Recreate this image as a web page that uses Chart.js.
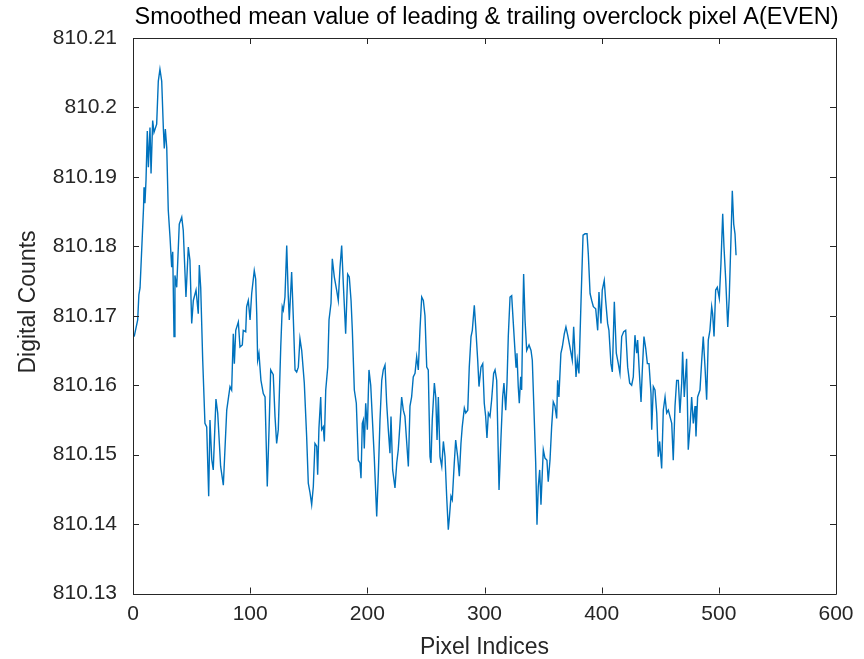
<!DOCTYPE html>
<html>
<head>
<meta charset="utf-8">
<script src="https://cdn.jsdelivr.net/npm/chart.js@4.4.1/dist/chart.umd.min.js"></script>
<style>
html,body{margin:0;padding:0;background:#fff;}
#wrap{width:864px;height:659px;}
</style>
</head>
<body>
<div id="wrap"><canvas id="c" width="864" height="659"></canvas></div>
<script>
const titleText = "Smoothed mean value of leading & trailing overclock pixel A(EVEN)";
const xLabel = "Pixel Indices";
const yLabel = "Digital Counts";
const xTicks = [0, 100, 200, 300, 400, 500, 600];
const yTicks = [810.13, 810.14, 810.15, 810.16, 810.17, 810.18, 810.19, 810.20, 810.21];

const pixelIdx = [
1,4,5,6,9,9.4,10.2,11.1,12.2,13.1,14.5,15.4,16.8,17.9,20.2,21.6,23.0,24.5,25.9,26.7,27.6,28.8,30.1,31.6,33.0,33.9,35.0,35.8,37.3,39.5,41.6,42.9,45.2,47.2,48.6,50.1,51.5,53.8,55.7,56.6,57.8,59.5,61.4,62.9,64.6,65.7,67.2,68.5,70.8,72.3,74.8,77.1,
80.0,81.3,82.8,84.2,85.6,86.5,87.7,89.9,91.3,93.3,94.1,96.2,97.0,98.4,99.9,101.3,103.5,104.7,105.6,106.4,107.5,109.2,111.2,112.7,114.1,114.6,116.1,117.5,119.7,121.2,122.6,124.0,126.1,127.4,128.3,129.7,131.2,132.5,133.4,135.4,136.8,138.3,139.7,141.1,142.5,144.0,146.2,148.2,149.6,151.1,152.5,153.9,155.3,156.8,157.6,158.7,160.2,161.0,162.4,163.3,
164.5,166.2,167.3,169.0,170.1,171.8,173.8,175.2,176.7,178.1,179.5,181.5,183.2,184.6,186.1,187.2,188.9,190.6,192.3,193.7,194.6,195.7,196.6,197.4,198.6,200.0,201.4,202.9,204.2,205.9,208.0,209.4,210.8,212.3,213.6,215.1,216.5,217.9,219.3,220.2,221.6,223.6,225.1,226.4,227.9,229.3,230.7,232.1,235.0,236.4,237.8,239.2,240.7,242.1,243.5,244.9,246.4,247.8,249.2,
250.7,252.0,253.5,254.3,255.4,257.2,258.4,259.5,260.6,262.0,263.5,264.9,266.3,267.7,269.1,270.0,271.4,272.5,274.2,275.4,277.1,278.5,279.9,281.0,282.8,284.0,285.7,287.0,288.5,289.6,291.3,292.5,294.2,295.3,297.0,298.5,299.8,301.0,302.1,303.3,304.7,306.1,307.8,309.0,310.4,312.4,314.1,315.5,316.6,318.1,319.2,320.3,321.8,323.2,324.6,326.0,326.9,327.7,328.8,329.7,330.9,331.7,332.6,333.4,
334.6,336.0,338.0,339.7,340.8,342.5,343.7,344.8,345.9,347.1,348.2,349.3,350.2,351.6,353.3,354.4,355.9,357.3,358.7,360.1,361.6,362.4,363.5,365.2,366.4,368.1,369.5,371.0,372.9,374.9,376.1,377.2,378.1,379.2,380.6,382.4,384.1,385.8,387.5,388.6,390.1,391.5,392.9,394.9,396.6,397.7,399.4,400.5,402.2,403.4,405.1,406.2,407.9,409.1,410.8,412.5,414.2,415.6,417.1,418.8,420.5,422.2,423.9,
425.6,427.0,428.4,429.9,430.7,431.9,433.6,434.7,436.1,437.6,439.0,440.4,442.1,442.7,444.1,445.5,447.0,448.3,449.5,451.2,452.6,454.1,455.5,456.9,459.8,461.1,462.6,464.0,465.4,466.8,468.3,469.1,470.5,472.5,473.9,475.4,476.8,478.2,479.7,480.5,481.9,483.9,485.4,486.7,488.2,489.6,491.0,492.4,493.9,494.7,495.9,497.3,498.7,500.4,501.8,503.3,504.4,505.9,507.6,508.9,510.4,511.5,512.7,513.8,514.7
];

const meanCounts = [
810.1670,810.1694,810.1730,810.1740,810.1856,810.1885,810.1862,810.1895,810.1966,810.1914,810.1971,810.1905,810.1981,810.1964,810.1976,810.2038,810.2055,810.2038,810.1970,810.1941,810.1969,810.1942,810.1852,810.1813,810.1770,810.1792,810.1670,810.1758,810.1741,810.1832,810.1842,810.1823,810.1727,810.1799,810.1780,810.1689,810.1722,810.1737,810.1703,810.1773,810.1740,810.1636,810.1545,810.1540,810.1440,810.1550,810.1493,810.1478,810.1580,810.1560,810.1483,810.1456,
810.1564,810.1580,810.1598,810.1593,810.1674,810.1631,810.1679,810.1691,810.1655,810.1658,810.1679,810.1677,810.1713,810.1722,810.1694,810.1732,810.1765,810.1753,810.1703,810.1636,810.1646,810.1607,810.1588,810.1583,810.1488,810.1454,810.1536,810.1622,810.1615,810.1555,810.1516,810.1536,810.1655,810.1713,810.1708,810.1727,810.1801,810.1729,810.1694,810.1763,810.1698,810.1622,810.1619,810.1626,810.1667,810.1650,810.1603,810.1526,810.1459,810.1445,810.1428,810.1454,810.1516,810.1512,810.1471,810.1538,810.1583,810.1536,810.1540,810.1519,
810.1593,810.1626,810.1694,810.1718,810.1782,810.1756,810.1737,810.1722,810.1770,810.1801,810.1746,810.1674,810.1760,810.1756,810.1722,810.1679,810.1593,810.1574,810.1492,810.1488,810.1466,810.1545,810.1550,810.1509,810.1574,810.1536,810.1622,810.1600,810.1555,810.1497,810.1411,810.1473,810.1550,810.1607,810.1622,810.1629,810.1574,810.1536,810.1502,810.1555,810.1478,810.1452,810.1488,810.1507,810.1545,810.1583,810.1564,810.1555,810.1483,810.1570,810.1583,810.1612,810.1617,810.1641,810.1622,810.1679,810.1727,810.1722,810.1700,
810.1626,810.1622,810.1497,810.1488,810.1550,810.1603,810.1583,810.1521,810.1583,810.1497,810.1483,810.1519,810.1497,810.1440,810.1392,810.1409,810.1440,810.1435,810.1488,810.1521,810.1497,810.1469,810.1516,810.1540,810.1567,810.1560,810.1564,810.1626,810.1670,810.1679,810.1715,810.1684,810.1636,810.1598,810.1626,810.1631,810.1574,810.1555,810.1524,810.1560,810.1555,810.1579,810.1617,810.1622,810.1607,810.1449,810.1526,810.1583,810.1603,810.1564,810.1603,810.1670,810.1727,810.1729,810.1689,810.1650,810.1626,810.1646,810.1598,810.1574,810.1612,810.1593,810.1689,810.1760,
810.1694,810.1650,810.1658,810.1650,810.1636,810.1550,810.1488,810.1399,810.1454,810.1478,810.1428,810.1473,810.1507,810.1495,810.1492,810.1461,810.1492,810.1540,810.1576,810.1570,810.1552,810.1607,810.1583,810.1646,810.1655,810.1674,810.1684,810.1672,810.1655,810.1636,810.1684,810.1646,810.1612,810.1636,810.1617,810.1722,810.1816,810.1818,810.1818,810.1789,810.1732,810.1722,810.1713,810.1710,810.1679,810.1734,810.1689,810.1737,810.1751,810.1722,810.1689,810.1679,810.1631,810.1619,810.1720,810.1646,810.1631,810.1617,810.1670,810.1677,810.1679,810.1626,810.1603,
810.1600,810.1612,810.1672,810.1646,810.1665,810.1626,810.1576,810.1622,810.1670,810.1653,810.1631,810.1631,810.1588,810.1536,810.1598,810.1593,810.1560,810.1497,810.1519,810.1480,810.1564,810.1583,810.1560,810.1564,810.1545,810.1492,810.1570,810.1607,810.1607,810.1560,810.1603,810.1648,810.1583,810.1638,810.1507,810.1540,810.1583,810.1545,810.1570,810.1526,810.1583,810.1593,810.1636,810.1670,810.1626,810.1579,810.1665,810.1679,810.1713,810.1703,810.1670,810.1737,810.1741,810.1725,810.1775,810.1847,810.1799,810.1751,810.1684,810.1727,810.1813,810.1880,810.1832,810.1818,810.1787
];

const points = pixelIdx.map((x, i) => ({x: x, y: meanCounts[i]}));
const axisColor = '#262626';
const FONT = '"Liberation Sans", Arial, Helvetica, sans-serif';

const frameTicks = {
  id: 'frameTicks',
  afterDraw(chart) {
    const {ctx, chartArea: a, scales} = chart;
    ctx.save();
    ctx.strokeStyle = axisColor;
    ctx.lineWidth = 1;
    ctx.beginPath();
    ctx.rect(Math.round(a.left) + 0.5, Math.round(a.top) + 0.5, Math.round(a.right - a.left), Math.round(a.bottom - a.top));
    const L = 6;
    xTicks.forEach(v => {
      const px = Math.round(scales.x.getPixelForValue(v)) + 0.5;
      ctx.moveTo(px, a.bottom); ctx.lineTo(px, a.bottom - L);
      ctx.moveTo(px, a.top); ctx.lineTo(px, a.top + L);
    });
    yTicks.forEach(v => {
      const py = Math.round(scales.y.getPixelForValue(v)) + 0.5;
      ctx.moveTo(a.left, py); ctx.lineTo(a.left + L, py);
      ctx.moveTo(a.right, py); ctx.lineTo(a.right - L, py);
    });
    ctx.stroke();
    ctx.textAlign = 'center';
    ctx.textBaseline = 'middle';
    // title centred over the axes box
    ctx.fillStyle = '#000';
    ctx.font = '23.5px ' + FONT;
    ctx.fillText(titleText, (a.left + a.right) / 2 + 2, 18);
    // axis labels
    ctx.fillStyle = axisColor;
    ctx.font = '23px ' + FONT;
    ctx.fillText(xLabel, (a.left + a.right) / 2, 648);
    ctx.translate(29, 302);
    ctx.rotate(-Math.PI / 2);
    ctx.fillText(yLabel, 0, 0);
    ctx.restore();
  }
};

new Chart(document.getElementById('c'), {
  type: 'line',
  data: {
    datasets: [{
      data: points,
      borderColor: '#0072BD',
      borderWidth: 1.4,
      pointRadius: 0,
      tension: 0,
      fill: false
    }]
  },
  options: {
    responsive: false,
    animation: false,
    devicePixelRatio: 1,
    layout: {padding: {left: 0, right: 28, top: 38, bottom: 0}},
    plugins: {
      legend: {display: false},
      tooltip: {enabled: false},
      title: {display: false}
    },
    scales: {
      x: {
        type: 'linear',
        min: 0, max: 600,
        afterBuildTicks: s => { s.ticks = xTicks.map(v => ({value: v})); },
        afterFit: s => { s.height = 65.5; },
        grid: {display: false, drawTicks: false},
        border: {display: false},
        ticks: {color: axisColor, font: {family: FONT, size: 21}, padding: 8, maxRotation: 0},
        title: {display: false}
      },
      y: {
        type: 'linear',
        min: 810.13, max: 810.21,
        afterBuildTicks: s => { s.ticks = yTicks.map(v => ({value: v})); },
        afterFit: s => { s.width = 133; },
        grid: {display: false, drawTicks: false},
        border: {display: false},
        ticks: {color: axisColor, font: {family: FONT, size: 21}, padding: 16,
          callback: v => String(Number(v.toFixed(2)))},
        title: {display: false}
      }
    }
  },
  plugins: [frameTicks]
});
</script>
</body>
</html>
